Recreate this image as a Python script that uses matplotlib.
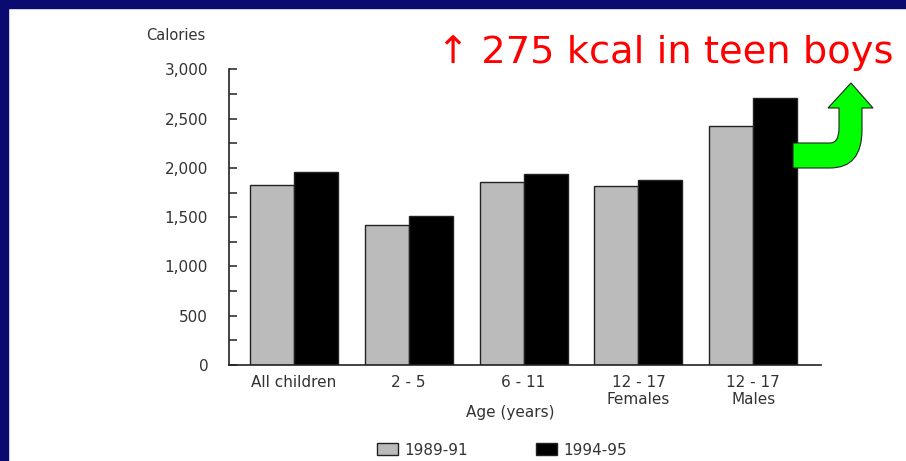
import matplotlib
matplotlib.use("Agg")
import matplotlib.pyplot as plt
import numpy as np
from matplotlib.patches import Rectangle, PathPatch, Patch
from matplotlib.path import Path

categories = ["All children", "2 - 5", "6 - 11", "12 - 17\nFemales", "12 - 17\nMales"]
series_names = ["1989-91", "1994-95"]
values_8991 = [1825, 1420, 1860, 1815, 2425]
values_9495 = [1960, 1515, 1935, 1875, 2710]
yticks = [0, 500, 1000, 1500, 2000, 2500, 3000]
ytick_labels = ["0", "500", "1,000", "1,500", "2,000", "2,500", "3,000"]
title = "\u2191 275 kcal in teen boys"

W, H = 906, 461
fig = plt.figure(figsize=(W / 100, H / 100), dpi=100)
fig.patch.set_facecolor("white")

def fx(px):
    return px / W

def fy(py):
    return 1 - py / H

# navy frame (left and top)
navy = "#0a0a70"
fig.add_artist(Rectangle((0, 0), fx(8), 1, transform=fig.transFigure, color=navy, zorder=0))
fig.add_artist(Rectangle((0, fy(8)), 1, 1 - fy(8), transform=fig.transFigure, color=navy, zorder=0))

ax_left, ax_right, ax_bottom, ax_top = 229, 821, 365, 69.3
ax = fig.add_axes([fx(ax_left), fy(ax_bottom), fx(ax_right - ax_left), (ax_bottom - ax_top) / H])

x = np.arange(len(categories))
bw = 0.383
gray = "#bbbbbb"
ax.bar(x - bw / 2, values_8991, bw, color=gray, edgecolor="#222222", linewidth=1.0, label=series_names[0], zorder=2)
ax.bar(x + bw / 2, values_9495, bw, color="black", edgecolor="#222222", linewidth=1.0, label=series_names[1], zorder=2)

ax.set_xlim(-0.565, 4.59)
ax.set_ylim(0, 3000)
for s in ["top", "right"]:
    ax.spines[s].set_visible(False)
for s in ["left", "bottom"]:
    ax.spines[s].set_color("#222222")
    ax.spines[s].set_linewidth(1.2)

tc = "#333333"
ax.set_yticks(yticks)
ax.set_yticklabels(ytick_labels)
ax.set_yticks(np.arange(250, 3000, 500), minor=True)
ax.tick_params(axis="y", which="both", direction="in", length=6, width=1.1, color="#222222",
               pad=15, labelsize=11, labelcolor=tc)
ax.set_xticks(x)
ax.set_xticklabels(categories, linespacing=1.15)
ax.tick_params(axis="x", length=0, pad=7, labelsize=11, labelcolor=tc)

fig.text(fx(176), fy(36), "Calories", ha="center", va="center", fontsize=10.5, color=tc)
fig.text(fx(510), fy(412), "Age (years)", ha="center", va="center", fontsize=11, color=tc)

handles = [Patch(facecolor=gray, edgecolor="#222222", linewidth=1.0),
           Patch(facecolor="black", edgecolor="#222222", linewidth=1.0)]
leg = fig.legend(handles, series_names, loc="center", bbox_to_anchor=(fx(502), fy(450)),
                 ncol=2, frameon=False, fontsize=11, handlelength=1.37, handleheight=0.85,
                 handletextpad=0.45, columnspacing=4.4, borderpad=0, borderaxespad=0)
for t in leg.get_texts():
    t.set_color(tc)

# title, fitted to the reference width
t = fig.text(fx(437), fy(63), title, ha="left", va="baseline", fontsize=26, color="#ff0000")
fig.canvas.draw()
r = fig.canvas.get_renderer()
wpx = t.get_window_extent(r).width
t.set_fontsize(26 * 456 / wpx)

# green curved arrow (pixel coordinates -> figure coords)
pts = [
    (793, 143), (830, 143), (839, 143), (839, 128), (839, 108), (828, 108), (851, 83),
    (873, 108), (862, 108), (862, 130), (862, 168), (830, 168), (793, 168), (793, 143)
]
codes = [Path.MOVETO, Path.LINETO, Path.CURVE3, Path.CURVE3, Path.LINETO, Path.LINETO, Path.LINETO,
         Path.LINETO, Path.LINETO, Path.LINETO, Path.CURVE3, Path.CURVE3, Path.LINETO, Path.CLOSEPOLY]
verts = [(fx(a), fy(b)) for a, b in pts]
fig.add_artist(PathPatch(Path(verts, codes), transform=fig.transFigure, facecolor="#00ff00",
                         edgecolor="#222222", linewidth=0.8, zorder=5))

fig.savefig("out.png", dpi=100)
